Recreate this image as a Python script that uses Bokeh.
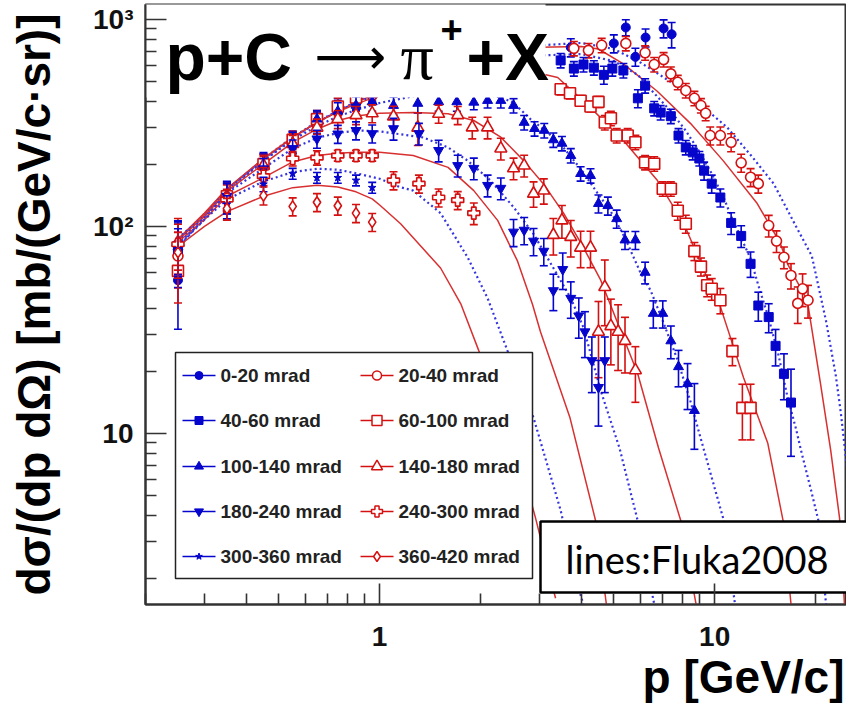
import math
from bokeh.plotting import figure
from bokeh.models import FixedTicker, Label, Title
from bokeh.core.properties import value
from bokeh.embed import file_html
from bokeh.resources import INLINE

# ---------------- axes ----------------
X_RANGE = (0.2, 24.75)
Y_RANGE = (1.492, 1181.0)
x_major = [1, 10]
x_major_labels = ["1", "10"]
x_minor = [0.2, 0.3, 0.4, 0.5, 0.6, 0.7, 0.8, 0.9, 2, 3, 4, 5, 6, 7, 8, 9, 20]
y_major = [10, 100, 1000]
y_major_labels = ["10", "10²", "10³"]
y_minor = [2, 3, 4, 5, 6, 7, 8, 9, 20, 30, 40, 50, 60, 70, 80, 90,
           200, 300, 400, 500, 600, 700, 800, 900]
x_title = "p [GeV/c]"
y_title = "dσ/(dp dΩ) [mb/(GeV/c·sr)]"

# ---------------- data (p [GeV/c], dsigma, relative error) ----------------
p_0_20 = [0.25, 0.35, 0.45, 0.55, 0.65, 0.75, 0.85, 0.95, 3.72, 5.0, 5.43, 5.8, 6.22, 7.04, 7.44]
y_0_20 = [55, 136, 198, 255, 320, 372, 410, 445, 733, 766, 915, 660, 818, 905, 848]
e_0_20 = [0.42, 0.2, 0.15, 0.12, 0.12, 0.12, 0.1, 0.1, 0.1, 0.1, 0.09, 0.1, 0.1, 0.1, 0.14]

p_20_40 = [0.25, 0.35, 0.45, 0.55, 0.65, 0.75, 0.85, 0.95, 3.8, 4.2, 4.6, 5.43, 6.2, 6.6, 7.04,
           7.4, 7.76, 8.2, 8.7, 9.1, 9.4, 9.7, 10.4, 11.2, 12.0, 12.8, 13.5, 14.5, 15.3, 16.1,
           16.9, 17.7, 18.3, 19.0]
y_20_40 = [72, 138, 195, 250, 310, 360, 400, 430, 725, 709, 750, 766, 690, 606, 640,
           546, 497, 454, 416, 384, 352, 275, 275, 255, 203, 173, 161, 101, 85, 71,
           58, 42.5, 50, 44]
e_20_40 = [0.3, 0.15, 0.12, 0.12, 0.1, 0.1, 0.1, 0.1, 0.08, 0.08, 0.08, 0.08, 0.08, 0.08, 0.08,
           0.08, 0.08, 0.08, 0.08, 0.08, 0.08, 0.1, 0.1, 0.1, 0.1, 0.1, 0.1, 0.12, 0.12, 0.12,
           0.14, 0.2, 0.18, 0.18]

p_40_60 = [0.25, 0.35, 0.45, 0.55, 0.65, 0.75, 0.85, 0.95, 3.47, 3.8, 4.06, 4.36, 4.67, 4.95,
           5.34, 5.9, 6.2, 6.6, 6.9, 7.4, 7.8, 8.2, 8.6, 9.0, 9.3, 9.8, 10.4, 11.2, 12.0, 12.8,
           13.5, 14.5, 15.2, 16.1, 16.9]
y_40_60 = [78, 140, 200, 258, 325, 370, 405, 440, 634, 579, 606, 585, 540, 579,
           567, 416, 479, 372, 355, 341, 275, 241, 228, 213, 186, 161, 138, 104, 90, 66,
           41.5, 36.5, 26.5, 19.4, 14.1]
e_40_60 = [0.35, 0.18, 0.12, 0.12, 0.1, 0.1, 0.1, 0.1, 0.08, 0.08, 0.08, 0.08, 0.1, 0.08,
           0.08, 0.1, 0.08, 0.08, 0.08, 0.08, 0.08, 0.08, 0.08, 0.08, 0.1, 0.1, 0.1, 0.12, 0.12, 0.14,
           0.16, 0.16, 0.2, 0.25, 0.45]

p_60_100 = [0.25, 0.35, 0.45, 0.55, 0.65, 0.75, 0.85, 0.95, 3.47, 3.7, 3.98, 4.26, 4.5, 4.7,
            4.9, 5.1, 5.5, 5.8, 6.2, 6.6, 7.0, 7.4, 7.76, 8.2, 8.7, 9.1, 9.5, 9.8, 10.4, 11.3,
            12.1, 12.8]
y_60_100 = [61, 140, 200, 262, 330, 380, 420, 450, 460, 440, 405, 380, 400, 318,
            333, 275, 275, 255, 204, 201, 152, 152, 119, 103, 76, 64, 52, 50, 44, 25,
            13.3, 13.3]
e_60_100 = [0.3, 0.15, 0.12, 0.1, 0.1, 0.1, 0.1, 0.1, 0.06, 0.06, 0.06, 0.06, 0.06, 0.08,
            0.08, 0.08, 0.08, 0.08, 0.08, 0.08, 0.08, 0.08, 0.1, 0.1, 0.1, 0.1, 0.12, 0.12, 0.14, 0.15,
            0.3, 0.3]

p_100_140 = [0.25, 0.35, 0.45, 0.55, 0.65, 0.75, 0.85, 0.95, 1.1, 1.3, 1.5, 1.7, 1.91, 2.1,
             2.3, 2.51, 2.7, 2.9, 3.1, 3.3, 3.5, 3.72, 3.98, 4.26, 4.5, 4.8, 5.1, 5.4, 5.8,
             6.2, 6.56, 7.0, 7.4, 7.8, 8.3, 8.7]
y_100_140 = [80, 142, 200, 255, 330, 360, 385, 400, 384, 393, 400, 400, 398, 406,
             406, 384, 318, 297, 291, 262, 252, 220, 180, 176, 129, 126, 109, 86, 86,
             60, 38, 38, 28, 21, 17.4, 12.9]
e_100_140 = [0.3, 0.15, 0.12, 0.12, 0.1, 0.1, 0.1, 0.1, 0.1, 0.1, 0.1, 0.1, 0.08, 0.08,
             0.08, 0.08, 0.08, 0.08, 0.08, 0.08, 0.08, 0.08, 0.08, 0.08, 0.1, 0.1, 0.1, 0.1, 0.1,
             0.12, 0.15, 0.15, 0.18, 0.2, 0.25, 0.35]

p_140_180 = [0.25, 0.35, 0.45, 0.55, 0.65, 0.75, 0.85, 0.95, 1.1, 1.3, 1.5, 1.71, 1.89, 2.1,
             2.3, 2.51, 2.7, 2.88, 3.09, 3.3, 3.5, 3.72, 3.98, 4.26, 4.5, 4.7, 4.9, 5.15, 5.4, 5.8]
y_140_180 = [84, 140, 197, 250, 300, 330, 345, 352, 340, 300, 350, 345, 301, 301,
             238, 191, 197, 144, 149, 91, 107, 89, 79, 79, 31, 51, 33, 31, 28, 20.2]
e_140_180 = [0.3, 0.15, 0.12, 0.1, 0.1, 0.1, 0.1, 0.1, 0.12, 0.18, 0.1, 0.1, 0.12, 0.12,
             0.12, 0.12, 0.12, 0.14, 0.14, 0.2, 0.18, 0.2, 0.2, 0.2, 0.4, 0.35, 0.35, 0.35, 0.3, 0.3]

p_180_240 = [0.25, 0.35, 0.45, 0.55, 0.65, 0.75, 0.85, 0.95, 1.1, 1.31, 1.5, 1.71, 1.91, 2.1,
             2.3, 2.51, 2.7, 2.88, 3.09, 3.3, 3.52, 3.72, 3.93, 4.1, 4.3, 4.5, 4.7]
y_180_240 = [82, 140, 190, 238, 265, 280, 291, 281, 297, 281, 233, 197, 191, 158,
             153, 94, 96, 85, 76, 49, 62, 45, 37, 31, 22.5, 16.7, 22.5]
e_180_240 = [0.3, 0.15, 0.12, 0.1, 0.1, 0.1, 0.1, 0.1, 0.12, 0.12, 0.12, 0.12, 0.12, 0.12,
             0.12, 0.15, 0.15, 0.15, 0.15, 0.2, 0.2, 0.2, 0.22, 0.25, 0.3, 0.35, 0.3]

p_240_300 = [0.25, 0.35, 0.45, 0.55, 0.65, 0.75, 0.85, 0.95, 1.1, 1.31, 1.5, 1.71, 1.91]
y_240_300 = [82, 135, 175, 213, 215, 220, 220, 220, 167, 161, 138, 134, 116]
e_240_300 = [0.25, 0.12, 0.1, 0.08, 0.08, 0.06, 0.06, 0.06, 0.1, 0.1, 0.1, 0.1, 0.12]

p_300_360 = [0.25, 0.35, 0.45, 0.55, 0.65, 0.75, 0.85, 0.95]
y_300_360 = [78, 128, 160, 180, 172, 172, 167, 154]
e_300_360 = [0.25, 0.1, 0.08, 0.06, 0.06, 0.06, 0.06, 0.06]

p_360_420 = [0.25, 0.35, 0.45, 0.55, 0.65, 0.75, 0.85, 0.95]
y_360_420 = [75, 122, 141, 125, 131, 126, 116, 105]
e_360_420 = [0.25, 0.12, 0.1, 0.1, 0.1, 0.1, 0.1, 0.1]

# ---------------- Fluka2008 curves ----------------
fp_0_20 = [0.25, 0.3, 0.35, 0.45, 0.55, 0.65, 0.75, 0.85, 1.0, 1.3, 1.6, 2.0, 2.5, 3.0, 4.0,
           5.0, 6.0, 8.1, 10.9, 13.0, 15.0, 17.5, 19.5, 21.5, 23.0, 23.8, 24.8]
fy_0_20 = [78, 112, 150, 212, 270, 320, 362, 400, 450, 530, 590, 650, 710, 750, 770,
           720, 620, 454, 301, 215, 161, 100, 72, 35, 19, 12.6, 7]
fp_20_40 = [0.25, 0.3, 0.35, 0.45, 0.55, 0.65, 0.75, 0.85, 1.0, 1.3, 1.6, 2.0, 2.5, 3.0, 4.0,
            4.5, 5.34, 6.74, 8.48, 10.6, 13.4, 15.7, 16.5, 18.9, 20.7, 22.2, 23.6, 24.4]
fy_20_40 = [86, 115, 152, 213, 268, 318, 360, 398, 445, 525, 585, 640, 700, 735, 740,
            720, 610, 450, 314, 208, 129, 83, 66, 44, 17.4, 8.3, 3.9, 1.5]
fp_40_60 = [0.25, 0.3, 0.35, 0.45, 0.55, 0.65, 0.75, 0.85, 1.0, 1.5, 2.0, 3.0, 4.0, 5.0, 5.9,
            6.6, 7.4, 8.2, 9.0, 9.8, 10.6, 11.2, 12.0, 12.8, 13.5, 14.5, 15.5, 16.5, 17.5,
            18.1, 19.3, 20.4, 21.5]
fy_40_60 = [80, 108, 146, 208, 266, 318, 360, 396, 438, 540, 605, 670, 680, 630, 540,
            440, 360, 290, 230, 180, 140, 112, 88, 70, 52, 36, 24, 15, 10.5,
            8.3, 5.5, 3.8, 1.5]
fp_60_100 = [0.25, 0.3, 0.35, 0.45, 0.55, 0.65, 0.75, 0.85, 1.0, 1.5, 2.0, 2.6, 3.0, 3.4,
             4.26, 5.34, 6.74, 8.1, 9.1, 10.4, 12.2, 14.4, 16.0, 16.9]
fy_60_100 = [87, 116, 152, 212, 270, 318, 358, 390, 430, 520, 565, 570, 550, 524,
             375, 260, 167, 103, 66, 41, 18.6, 9.0, 3.8, 1.5]
fp_100_140 = [0.25, 0.3, 0.35, 0.45, 0.55, 0.65, 0.75, 0.85, 1.0, 1.3, 1.6, 2.0, 2.3, 2.5,
              2.82, 3.17, 3.54, 3.98, 4.47, 4.9, 5.4, 6.0, 6.44, 7.0, 7.76, 8.5, 9.08, 10.6, 11.5]
fy_100_140 = [88, 112, 150, 208, 262, 305, 340, 365, 395, 430, 445, 440, 420, 398,
              330, 285, 240, 190, 145, 118, 88, 60, 49, 35, 22.5, 14, 9.5, 3.9, 1.5]
fp_140_180 = [0.25, 0.3, 0.35, 0.45, 0.55, 0.65, 0.75, 0.85, 1.0, 1.26, 1.6, 1.91, 2.3, 2.69,
              3.08, 3.54, 4.06, 4.57, 5.89, 6.8, 7.92, 8.8]
fy_140_180 = [86, 112, 148, 200, 255, 295, 325, 342, 352, 355, 350, 325, 270, 208,
              161, 116, 79, 55, 19.5, 8.5, 3.8, 1.5]
fp_180_240 = [0.25, 0.3, 0.35, 0.45, 0.55, 0.65, 0.75, 0.86, 1.0, 1.35, 1.6, 1.83, 2.14, 2.51,
              2.88, 3.3, 3.72, 4.06, 4.57, 5.2, 5.89, 6.6]
fy_180_240 = [85, 110, 145, 191, 238, 268, 283, 291, 288, 269, 241, 208, 167, 124,
              92, 63, 45, 32.5, 16.1, 8.5, 3.8, 1.5]
fp_240_300 = [0.25, 0.3, 0.35, 0.45, 0.55, 0.65, 0.75, 0.85, 1.0, 1.26, 1.6, 1.91, 2.25, 2.58,
              2.86, 3.02, 3.7, 4.41, 4.75]
fy_240_300 = [84, 108, 140, 172, 205, 220, 226, 228, 228, 220, 193, 149, 107, 68,
              42, 31, 11.9, 3.8, 1.5]
fp_300_360 = [0.25, 0.3, 0.35, 0.45, 0.55, 0.65, 0.75, 0.86, 1.0, 1.15, 1.26, 1.52, 1.83, 2.1,
              2.41, 2.88, 3.47, 3.85, 4.1]
fy_300_360 = [82, 108, 135, 165, 183, 190, 188, 180, 170, 155, 149, 116, 71, 45,
              25, 11.9, 4.25, 2.0, 1.4]
fp_360_420 = [0.25, 0.3, 0.35, 0.45, 0.55, 0.65, 0.75, 0.85, 0.95, 1.0, 1.155, 1.33, 1.52, 1.75,
              1.975, 2.3, 2.6, 2.92, 3.35]
fy_360_420 = [80, 100, 118, 140, 154, 158, 155, 147, 136, 127, 103, 80, 63, 42,
              25.2, 13.6, 7.8, 3.9, 1.6]

BLUE = "#0505cc"
RED = "#d41010"
BLUE_LINE = "#3535e0"
RED_LINE = "#d83030"

# name, data p, y, err, curve p, y, colour, marker, size, filled
series = [
    ("0-20 mrad", p_0_20, y_0_20, e_0_20, fp_0_20, fy_0_20, "b", "circle", 9, True),
    ("20-40 mrad", p_20_40, y_20_40, e_20_40, fp_20_40, fy_20_40, "r", "circle", 10, False),
    ("40-60 mrad", p_40_60, y_40_60, e_40_60, fp_40_60, fy_40_60, "b", "square", 9, True),
    ("60-100 mrad", p_60_100, y_60_100, e_60_100, fp_60_100, fy_60_100, "r", "square", 11, False),
    ("100-140 mrad", p_100_140, y_100_140, e_100_140, fp_100_140, fy_100_140, "b", "triangle", 10, True),
    ("140-180 mrad", p_140_180, y_140_180, e_140_180, fp_140_180, fy_140_180, "r", "triangle", 12, False),
    ("180-240 mrad", p_180_240, y_180_240, e_180_240, fp_180_240, fy_180_240, "b", "inverted_triangle", 10, True),
    ("240-300 mrad", p_240_300, y_240_300, e_240_300, fp_240_300, fy_240_300, "r", "plus", 12, False),
    ("300-360 mrad", p_300_360, y_300_360, e_300_360, fp_300_360, fy_300_360, "b", "star", 8, True),
    ("360-420 mrad", p_360_420, y_360_420, e_360_420, fp_360_420, fy_360_420, "r", "diamond", 11, False),
]

# ---------------- frame geometry ----------------
W, H = 846, 707
FL, FR, FT, FB = 145, 846, 4, 604


def dx(px):
    lo, hi = math.log10(X_RANGE[0]), math.log10(X_RANGE[1])
    return 10 ** (lo + (px - FL) / (FR - FL) * (hi - lo))


def dy(py):
    lo, hi = math.log10(Y_RANGE[0]), math.log10(Y_RANGE[1])
    return 10 ** (lo + (FB - py) / (FB - FT) * (hi - lo))


p = figure(width=W, height=H, x_axis_type="log", y_axis_type="log",
           x_range=X_RANGE, y_range=Y_RANGE, output_backend="svg",
           toolbar_location=None, title=None,
           min_border_left=FL, min_border_right=W - FR,
           min_border_top=FT, min_border_bottom=H - FB)
p.grid.visible = False
p.background_fill_color = "white"
p.border_fill_color = "white"
p.outline_line_color = "#333333"
p.outline_line_width = 2

for ax in (p.xaxis[0], p.yaxis[0]):
    ax.axis_line_width = 2
    ax.axis_line_color = "#333333"
    ax.major_tick_in = 21
    ax.major_tick_out = 0
    ax.minor_tick_in = 11
    ax.minor_tick_out = 0
    ax.major_tick_line_width = 1.6
    ax.minor_tick_line_width = 1.6
    ax.major_tick_line_color = "#333333"
    ax.minor_tick_line_color = "#333333"
    ax.major_label_text_font = "Liberation Sans"
    ax.major_label_text_font_style = "bold"
    ax.major_label_text_font_size = "28px"
    ax.major_label_text_color = "#111111"

p.xaxis[0].ticker = FixedTicker(ticks=x_major, minor_ticks=x_minor)
p.xaxis[0].major_label_overrides = dict(zip(x_major, x_major_labels))
p.xaxis[0].major_label_standoff = 22
p.yaxis[0].ticker = FixedTicker(ticks=y_major, minor_ticks=y_minor)
p.yaxis[0].major_label_overrides = dict(zip(y_major, y_major_labels))
p.yaxis[0].major_label_standoff = 12

# y axis title
p.yaxis[0].axis_label = y_title
p.yaxis[0].axis_label_text_font = "Liberation Sans"
p.yaxis[0].axis_label_text_font_style = "bold"
p.yaxis[0].axis_label_text_font_size = "46px"
p.yaxis[0].axis_label_text_color = "black"
p.yaxis[0].axis_label_standoff = 30

# x axis title (right aligned, below the axis)
p.add_layout(Title(text=x_title, align="right", text_font="Liberation Sans",
                   text_font_style="bold", text_font_size="46px", text_color="black",
                   standoff=0, offset=2), "below")

# ---------------- curves ----------------
for name, dp, dyv, de, cp, cy, col, mk, sz, filled in series:
    if col == "b":
        p.line(cp, cy, line_color=BLUE_LINE, line_width=2.2, line_dash="2 3")
    else:
        p.line(cp, cy, line_color=RED_LINE, line_width=1.5)

# ---------------- data points with error bars ----------------
for name, dp, dyv, de, cp, cy, col, mk, sz, filled in series:
    c = BLUE if col == "b" else RED
    lo = [v * (1 - r) for v, r in zip(dyv, de)]
    hi = [v * (1 + r) for v, r in zip(dyv, de)]
    p.segment(x0=dp, y0=lo, x1=dp, y1=hi, line_color=c, line_width=1.6)
    p.scatter(dp + dp, lo + hi, marker="dash", size=8, line_color=c, line_width=1.6)
    if filled:
        p.scatter(dp, dyv, marker=mk, size=sz, fill_color=c, line_color=c, line_width=1)
    else:
        p.scatter(dp, dyv, marker=mk, size=sz, fill_color="white", line_color=c, line_width=1.6)

# ---------------- white boxes ----------------
p.quad(left=[X_RANGE[0] * 0.8], right=[dx(545)], bottom=[dy(97)], top=[Y_RANGE[1] * 1.2],
       fill_color="white", line_color=None)
p.quad(left=[dx(175)], right=[dx(532)], bottom=[dy(578)], top=[dy(352)],
       fill_color="white", line_color="#222222", line_width=1.5)
p.quad(left=[dx(540)], right=[dx(900)], bottom=[dy(592)], top=[dy(521)],
       fill_color="white", line_color="black", line_width=2.5)

# ---------------- legend entries ----------------
rows_py = [375, 420, 466, 511, 556]
cols_px = [(182, 215, 220), (360, 393, 398)]
blue_items = [s for s in series if s[6] == "b"]
red_items = [s for s in series if s[6] == "r"]
for ci, items in enumerate((blue_items, red_items)):
    x0, x1, xt = cols_px[ci]
    for ri, s in enumerate(items):
        name, dp, dyv, de, cp, cy, col, mk, sz, filled = s
        c = BLUE if col == "b" else RED
        yy = dy(rows_py[ri])
        p.line([dx(x0), dx(x1)], [yy, yy], line_color=c, line_width=1.6)
        if filled:
            p.scatter([dx((x0 + x1) / 2)], [yy], marker=mk, size=sz - 1, fill_color=c, line_color=c)
        else:
            p.scatter([dx((x0 + x1) / 2)], [yy], marker=mk, size=sz - 1, fill_color="white",
                      line_color=c, line_width=1.5)
        p.text(x=[dx(xt)], y=[yy], text=[name], text_font=value("Liberation Sans"),
               text_font_style="bold", text_font_size="19px", text_baseline="middle",
               text_color="#222222")


# ---------------- texts inside the frame ----------------
def lab(text, px, py, size, font="Liberation Sans", style="bold", align="left",
        baseline="alphabetic", color="black"):
    p.add_layout(Label(x=px - FL, y=FB - py, x_units="screen", y_units="screen",
                       text=text, text_font=font, text_font_style=style,
                       text_font_size=f"{size}px", text_align=align,
                       text_baseline=baseline, text_color=color))


lab("p+C", 165, 56, 66)
lab("⟶", 314, 56, 50, font="DejaVu Sans", style="normal")
lab("π", 400, 56, 66, font="Liberation Serif", style="normal")
lab("+", 440, 29, 38)
lab("+X", 466, 56, 66)
lab("lines:Fluka2008", 565, 558, 38, font="Lato", style="normal")

open("out.html", "w").write(file_html(p, INLINE))
